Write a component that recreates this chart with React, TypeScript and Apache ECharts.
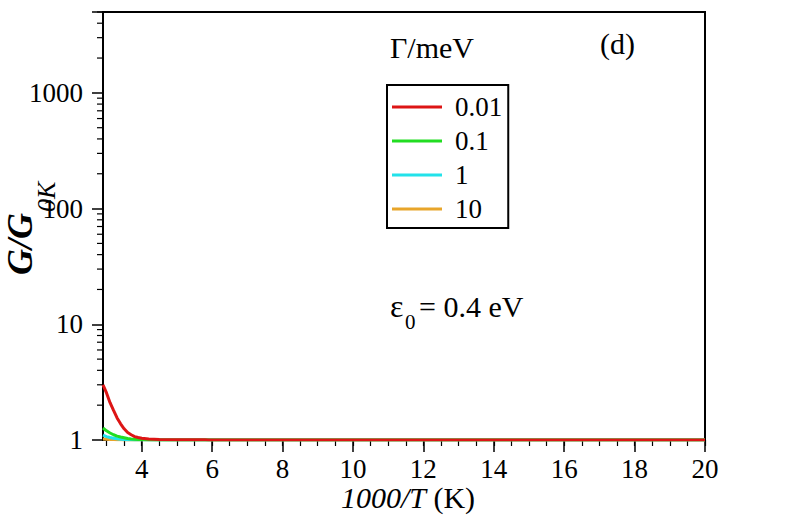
import React, { useEffect, useRef } from 'react';
import * as echarts from 'echarts';

const FONT = 'Liberation Serif';

const X_MIN = 2.9;
const X_MAX = 20;
const Y_MIN = 1;
const Y_MAX = 5000;

const X_MAJOR = [4, 6, 8, 10, 12, 14, 16, 18, 20];
const X_MINOR = [3, 3.5, 4, 4.5, 5, 5.5, 6, 6.5, 7, 7.5, 8, 8.5, 9, 9.5, 10, 10.5, 11, 11.5, 12, 12.5, 13, 13.5, 14, 14.5, 15, 15.5, 16, 16.5, 17, 17.5, 18, 18.5, 19, 19.5, 20];
const Y_MINOR = [2, 3, 4, 5, 6, 7, 8, 9, 20, 30, 40, 50, 60, 70, 80, 90, 200, 300, 400, 500, 600, 700, 800, 900, 2000, 3000, 4000, 5000];

const NAMES = ['0.01', '0.1', '1', '10'];
const COLORS = ['#dd1515', '#22dd22', '#22e2ea', '#e8a52a'];

const X = [2.9, 3.0, 3.1, 3.2, 3.3, 3.4, 3.5, 3.6, 3.7, 3.8, 3.9, 4.0, 4.2, 4.5, 5.0, 5.8, 5.9, 8, 12, 16, 20];
const G_001 = [3.0, 2.55, 2.1, 1.8, 1.55, 1.38, 1.25, 1.16, 1.11, 1.07, 1.05, 1.035, 1.02, 1.01, 1.005, 1.004, 1.0, 1.0, 1.0, 1.0, 1.0];
const G_01 = [1.27, 1.2, 1.15, 1.11, 1.08, 1.06, 1.045, 1.03, 1.022, 1.015, 1.01, 1.008, 1.004, 1.002, 1.0, 1.0, 1.0, 1.0, 1.0, 1.0, 1.0];
const G_1 = [1.1, 1.07, 1.05, 1.035, 1.025, 1.015, 1.01, 1.006, 1.004, 1.002, 1.001, 1.0, 1.0, 1.0, 1.0, 1.0, 1.0, 1.0, 1.0, 1.0, 1.0];
const G_10 = [1.02, 1.015, 1.011, 1.008, 1.005, 1.003, 1.002, 1.001, 1.0, 1.0, 1.0, 1.0, 1.0, 1.0, 1.0, 1.0, 1.0, 1.0, 1.0, 1.0, 1.0];

const SERIES_VALUES = [G_001, G_01, G_1, G_10];

export default function App() {
  const ref = useRef<HTMLDivElement>(null);

  useEffect(() => {
    if (!ref.current) return;
    const chart = echarts.init(ref.current, null, { renderer: 'svg' });

    const lineSeries = SERIES_VALUES.map((vals, i) => ({
      type: 'line',
      name: NAMES[i],
      data: X.map((x, j) => [x, vals[j]]),
      showSymbol: false,
      symbol: 'none',
      lineStyle: { color: COLORS[i], width: 3 },
      itemStyle: { color: COLORS[i] },
      z: 10 - i,
    }));

    const option: any = {
      animation: false,
      backgroundColor: '#fff',
      textStyle: { fontFamily: FONT },
      grid: {
        left: 103,
        right: 87,
        top: 12,
        bottom: 92,
        show: true,
        borderColor: '#000',
        borderWidth: 2,
        backgroundColor: 'transparent',
      },
      xAxis: [
        {
          type: 'value',
          min: X_MIN,
          max: X_MAX,
          position: 'bottom',
          axisLine: { show: true, onZero: false, lineStyle: { color: '#000', width: 2 } },
          axisTick: { show: true, customValues: X_MAJOR, length: 12, lineStyle: { color: '#000', width: 1.5 } },
          axisLabel: {
            customValues: X_MAJOR,
            margin: 15,
            color: '#000',
            fontFamily: FONT,
            fontSize: 27,
          },
          splitLine: { show: false },
        },
        {
          type: 'value',
          min: X_MIN,
          max: X_MAX,
          position: 'bottom',
          offset: 0,
          axisLine: { show: false },
          axisTick: { show: true, customValues: X_MINOR, length: 6, lineStyle: { color: '#000', width: 1.2 } },
          axisLabel: { show: false },
          splitLine: { show: false },
        },
      ],
      yAxis: {
        type: 'log',
        logBase: 10,
        min: Y_MIN,
        max: Y_MAX,
        axisLine: { show: true, onZero: false, lineStyle: { color: '#000', width: 2 } },
        axisTick: { show: true, length: 11, lineStyle: { color: '#000', width: 1.5 } },
        axisLabel: {
          margin: 20,
          color: '#000',
          fontFamily: FONT,
          fontSize: 27,
          formatter: (v: number) => {
            const l = Math.log10(v);
            return Math.abs(l - Math.round(l)) < 1e-6 ? String(Math.round(v)) : '';
          },
        },
        splitLine: { show: false },
      },
      legend: {
        data: NAMES,
        orient: 'vertical',
        left: 387,
        top: 85,
        padding: [8, 6, 5, 5],
        itemWidth: 50,
        itemHeight: 3,
        itemGap: 6,
        icon: 'rect',
        borderColor: '#000',
        borderWidth: 2,
        backgroundColor: '#fff',
        textStyle: { fontFamily: FONT, fontSize: 27, color: '#000', lineHeight: 28, padding: [0, 0, 0, 8] },
      },
      series: [
        ...lineSeries.slice().reverse(),
        {
          type: 'custom',
          name: 'yminor',
          silent: true,
          clip: false,
          data: Y_MINOR.map((v) => [X_MIN, v]),
          renderItem: (params: any, api: any) => {
            const p = api.coord([api.value(0), api.value(1)]);
            return {
              type: 'line',
              shape: { x1: p[0] - 6, y1: p[1], x2: p[0], y2: p[1] },
              style: { stroke: '#000', lineWidth: 1.2 },
            };
          },
          z: 5,
        },
      ],
      graphic: [
        {
          type: 'text',
          left: 390,
          top: 32,
          style: { text: 'Γ/meV', fontFamily: FONT, fontSize: 30, fill: '#000' },
        },
        {
          type: 'text',
          left: 600,
          top: 28,
          style: { text: '(d)', fontFamily: FONT, fontSize: 30, fill: '#000' },
        },
        {
          type: 'text',
          x: 390,
          y: 306,
          style: { text: 'ε', fontFamily: FONT, fontSize: 32, fill: '#000', align: 'left', verticalAlign: 'middle' },
        },
        {
          type: 'text',
          x: 405,
          y: 322,
          style: { text: '0', fontFamily: FONT, fontSize: 21, fill: '#000', align: 'left', verticalAlign: 'middle' },
        },
        {
          type: 'text',
          x: 419,
          y: 306,
          style: { text: '= 0.4 eV', fontFamily: FONT, fontSize: 30, fill: '#000', align: 'left', verticalAlign: 'middle' },
        },
        {
          type: 'text',
          x: 408,
          y: 497,
          style: {
            text: '{i|1000/T} (K)',
            fontFamily: FONT,
            fontSize: 30,
            fill: '#000',
            align: 'center',
            verticalAlign: 'middle',
            rich: { i: { fontFamily: FONT, fontSize: 30, fontStyle: 'italic', fill: '#000' } },
          },
        },
        {
          type: 'group',
          x: 20,
          y: 275,
          rotation: Math.PI / 2,
          children: [
            {
              type: 'text',
              x: 0,
              y: 0,
              style: { text: 'G/G', fontFamily: FONT, fontSize: 36, fontStyle: 'italic', fontWeight: 'bold', fill: '#000', align: 'left', verticalAlign: 'middle' },
            },
            {
              type: 'text',
              x: 63,
              y: 26,
              style: { text: '0K', fontFamily: FONT, fontSize: 26, fontStyle: 'italic', fill: '#000', align: 'left', verticalAlign: 'middle' },
            },
          ],
        },
      ],
    };

    chart.setOption(option);
    return () => chart.dispose();
  }, []);

  return (
    <div
      ref={ref}
      style={{ position: 'fixed', left: 0, top: 0, width: 792, height: 532, background: '#fff' }}
    />
  );
}
